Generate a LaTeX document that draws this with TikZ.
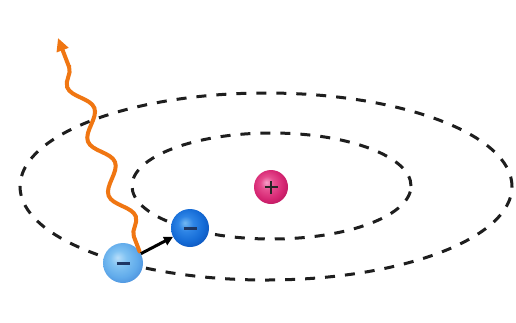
\documentclass[tikz,border=0pt]{standalone}
\usetikzlibrary{decorations.pathmorphing,arrows.meta}
\definecolor{orbitgray}{RGB}{30,30,30}
\definecolor{photonorange}{RGB}{240,118,18}
\definecolor{signnavy}{RGB}{30,55,100}
% sphere shadings with the highlight towards the upper left
\pgfdeclareradialshading{outerball}{\pgfpoint{-7bp}{7bp}}{%
  rgb(0bp)=(0.72,0.87,0.98); rgb(10bp)=(0.50,0.76,0.95);
  rgb(22bp)=(0.38,0.67,0.92); rgb(32bp)=(0.28,0.55,0.86);
  rgb(50bp)=(0.25,0.50,0.82)}
\pgfdeclareradialshading{innerball}{\pgfpoint{-7bp}{7bp}}{%
  rgb(0bp)=(0.45,0.72,0.95); rgb(10bp)=(0.18,0.52,0.90);
  rgb(22bp)=(0.08,0.42,0.84); rgb(32bp)=(0.05,0.32,0.72);
  rgb(50bp)=(0.04,0.28,0.66)}
\pgfdeclareradialshading{nucleusball}{\pgfpoint{-7bp}{7bp}}{%
  rgb(0bp)=(0.96,0.62,0.78); rgb(10bp)=(0.90,0.30,0.56);
  rgb(22bp)=(0.84,0.15,0.45); rgb(32bp)=(0.72,0.08,0.36);
  rgb(50bp)=(0.66,0.06,0.32)}
\begin{document}
\begin{tikzpicture}[x=1pt,y=-1pt,
  orbit/.style={draw=orbitgray, line width=3pt, dash pattern=on 10pt off 10pt},
  particle/.style={circle, minimum size=#1, inner sep=0pt},
  minussign/.style={path picture={
      \draw[signnavy, line width=3pt]
        ([xshift=-6.5pt]path picture bounding box.center) --
        ([xshift=6.5pt]path picture bounding box.center);}},
  plussign/.style={path picture={
      \draw[black!85, line width=2.4pt]
        ([xshift=-6.5pt]path picture bounding box.center) --
        ([xshift=6.5pt]path picture bounding box.center)
        ([yshift=-6.5pt]path picture bounding box.center) --
        ([yshift=6.5pt]path picture bounding box.center);}},
  photon/.style={draw=photonorange, line width=4pt, line cap=round,
      decorate, decoration={snake, mirror, segment length=58pt, amplitude=9pt,
        pre length=16pt, post length=14pt},
      -{Triangle[length=13pt,width=12pt]}},
  jump/.style={draw=black, line width=3pt, -{Triangle[length=9pt,width=9pt]}}
]
\fill[white] (0,0) rectangle (516,322);
\useasboundingbox (0,0) rectangle (516,322);

% electron shells
\draw[orbit] (266,186.5) ellipse [x radius=246pt, y radius=93.5pt];
\draw[orbit] (271.5,186) ellipse [x radius=139.5pt, y radius=53pt];

% nucleus and electrons
\node[particle=34pt, shading=nucleusball, plussign] (nuc) at (271,187) {};
\node[particle=38pt, shading=innerball, minussign] (e1) at (190,228) {};
\node[particle=40pt, shading=outerball, minussign] (e2) at (123,263) {};

% emitted photon
\coordinate (ph0) at (e2.35);
\coordinate (ph1) at (58,38);
\draw[photon] (ph0) -- (ph1);

% electron jump to the inner shell
\draw[jump] (e2) -- (e1);
\end{tikzpicture}
\end{document}
